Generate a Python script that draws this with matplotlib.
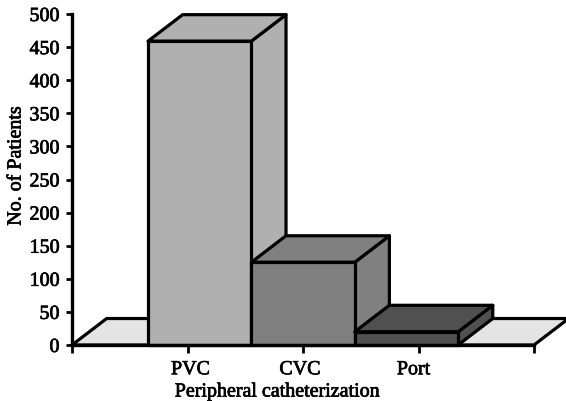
import matplotlib
matplotlib.use('Agg')
import matplotlib.pyplot as plt
import matplotlib.patheffects as pe
from matplotlib.patches import Polygon
from matplotlib.transforms import ScaledTranslation

categories = ['PVC', 'CVC', 'Port']
patients = [459, 125, 20]
bar_colors = ['#b0b0b0', '#808080', '#505050']
y_ticks = list(range(0, 501, 50))

plt.rcParams['font.family'] = ['Liberation Serif', 'DejaVu Serif']

# one x unit is one tick spacing (115.5 px)
dx = 0.3
dy = 40
bar_w = 0.895
bar_start = 0.658
edge = dict(edgecolor='black', linewidth=2.3, joinstyle='round', clip_on=False)
heavy = [pe.withStroke(linewidth=0.5, foreground='black')]

def draw_bar(ax, x0, h, color):
    x1 = x0 + bar_w
    ax.add_patch(Polygon([(x1, 0), (x1 + dx, dy), (x1 + dx, h + dy), (x1, h)], facecolor=color, **edge))
    ax.add_patch(Polygon([(x0, h), (x1, h), (x1 + dx, h + dy), (x0 + dx, h + dy)], facecolor=color, **edge))
    ax.add_patch(Polygon([(x0, 0), (x1, 0), (x1, h), (x0, h)], facecolor=color, **edge))

fig = plt.figure(figsize=(5.66, 4.02), dpi=100)
ax = fig.add_axes([72 / 566, 56 / 402, 494 / 566, 331 / 402])
ax.set_xlim(0, 494 / 115.5)
ax.set_ylim(0, 500)

# floor
ax.add_patch(Polygon([(0, 0), (dx, dy), (4 + dx, dy), (4, 0)], facecolor='#e4e4e4', **edge))

for i, (h, c) in enumerate(zip(patients, bar_colors)):
    draw_bar(ax, bar_start + i * bar_w, h, c)

for s in ['top', 'right']:
    ax.spines[s].set_visible(False)
ax.spines['left'].set_linewidth(2.4)
ax.spines['bottom'].set_linewidth(2.4)
ax.spines['bottom'].set_bounds(0, 4)

ax.set_yticks(y_ticks)
ax.set_xticks(range(5))
ax.set_xticklabels([''] + categories + [''])
ax.tick_params(axis='y', length=4.5, width=2, labelsize=14.4, pad=4.5)
ax.tick_params(axis='x', length=6, width=2, labelsize=14.4, pad=5)

# labels sit a little off their ticks in the original
for lab, shift in zip(ax.get_xticklabels()[1:4], [3, -3, -5]):
    lab.set_transform(lab.get_transform() + ScaledTranslation(shift / 100, 0, fig.dpi_scale_trans))

fig.text(277 / 566, 1 - 393 / 402, 'Peripheral catheterization', fontsize=14.4, ha='center', va='center')
fig.text(16 / 566, 1 - 167 / 402, 'No. of Patients', fontsize=14.4, ha='center', va='center', rotation=90)

for t in ax.get_xticklabels() + ax.get_yticklabels() + fig.texts:
    t.set_path_effects(heavy)

fig.savefig('out.png', dpi=100)
